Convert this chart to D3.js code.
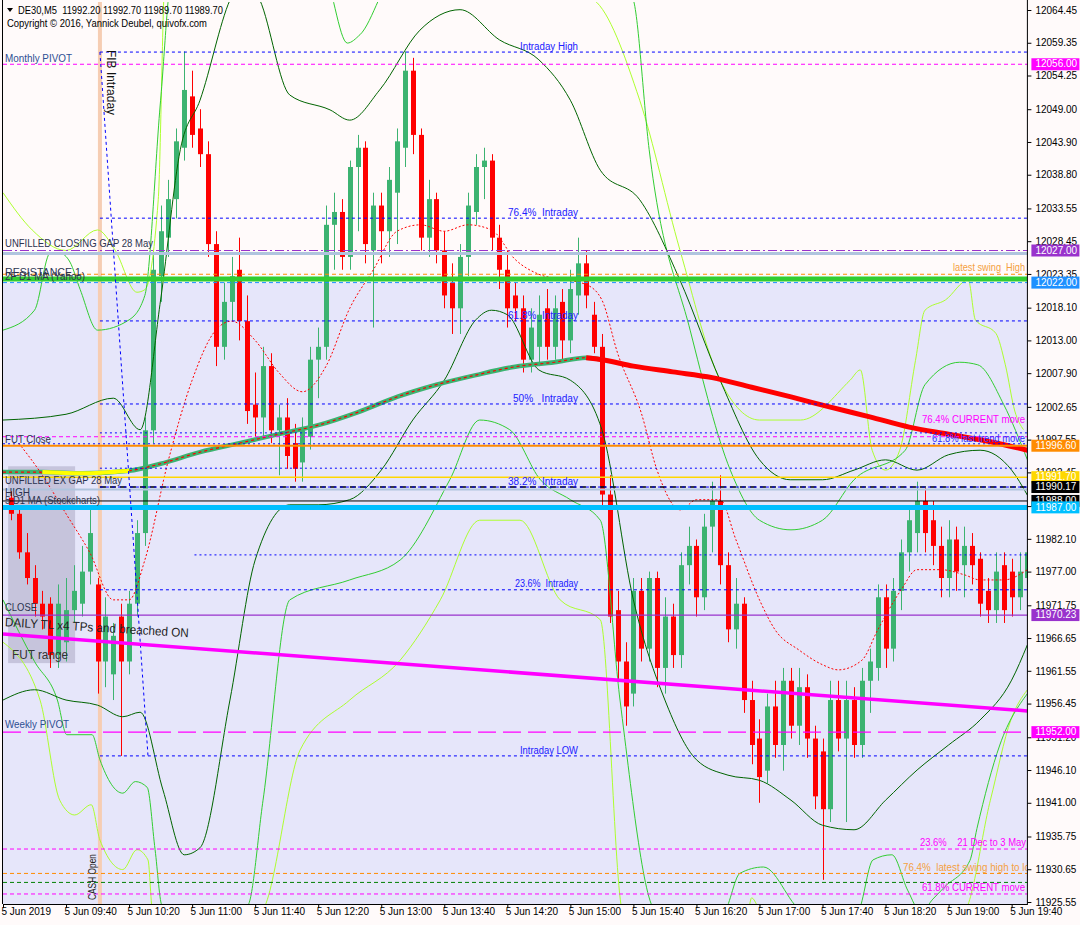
<!DOCTYPE html>
<html><head><meta charset="utf-8">
<script src="https://cdn.jsdelivr.net/npm/d3@7"></script>
<style>
body{margin:0;background:#fffafa;}
text{font-family:"Liberation Sans",Arial,sans-serif;white-space:pre;}
</style>
</head><body>
<svg id="c" width="1080" height="925"></svg>
<script>
// ---------------- DATA ----------------
const xTickBars = [0,8,16,24,32,40,48,56,64,72,80,88,96,104,112,120,128];
const xTickLabels = ["5 Jun 2019","5 Jun 09:40","5 Jun 10:20","5 Jun 11:00","5 Jun 11:40","5 Jun 12:20","5 Jun 13:00","5 Jun 13:40","5 Jun 14:20","5 Jun 15:00","5 Jun 15:40","5 Jun 16:20","5 Jun 17:00","5 Jun 17:40","5 Jun 18:20","5 Jun 19:00","5 Jun 19:40"];
const yTicks = [12064.45,12059.35,12054.25,12049.00,12043.90,12038.80,12033.55,12028.45,12023.35,12018.10,12013.00,12007.90,12002.65,11997.55,11992.45,11987.20,11982.10,11977.00,11971.75,11966.65,11961.55,11956.45,11951.20,11946.10,11941.00,11935.75,11930.65,11925.55];

// candles, bar 1..130 (5-minute bars from 09:00)
const opens = [11988.5,11986,11980,11976,11972,11972,11964,11966,11971,11972,11977,11975,11963,11961,11970,11963,11972,11983,11999,12023,12029,12035,12043,12051,12046,12042,12028,12012,12019,12024,12016,12003,12001,12009,11999,12001,11997,11994,11998,12010,12012,12031,12033,12026,12040,12043,12027,12034,12030,12036,12043,12055,12045,12029,12035,12027,12022,12018,12026,12033,12040,12041,12029,12024,12020,12018,12010,12012,12018,12012,12019,12013,12020,12025,12017,12012,11989,11971,11963,11958,11974,11965,11976,11962,11970,11964,11978,11981,11973,11984,11988,11978,11968,11972,11957,11951,11946,11956,11950,11960,11953,11959,11951,11949,11940,11957,11951,11957,11950,11960,11962,11973,11965,11974,11980,11983,11988,11985,11981,11976,11982,11978,11981,11979,11974,11971,11978,11977,11973,11976];
const highs = [11989.5,11987,11983,11978,11974,11973,11975,11976,11978,11981,11987,11976,11973,11969,11972,11974,11985,12001,12027,12034,12038,12046,12058,12055,12049,12044,12030,12022,12026,12029,12020,12008,12012,12011,12003,12004,12000,12001,12012,12015,12034,12036,12035,12041,12045,12044,12036,12036,12040,12046,12058,12057,12046,12038,12036,12030,12025,12028,12036,12042,12043,12042,12031,12027,12022,12020,12018,12020,12021,12020,12021,12024,12029,12027,12019,12014,11992,11974,11966,11976,11976,11977,11977,11973,11972,11980,11984,11982,11986,11991,11992,11980,11976,11973,11960,11954,11958,11960,11962,11962,11962,11961,11953,11951,11960,11960,11960,11959,11962,11965,11975,11975,11976,11982,11987,11991,11990,11988,11984,11985,11984,11984,11983,11980,11976,11980,11980,11979,11980,11981];
const lows = [11985,11979,11975,11970,11968,11962,11962,11963,11969,11970,11975,11958,11959,11957,11948.3,11961,11970,11981,11997,12019,12026,12032,12041,12043,12040,12026,12009,12010,12016,12013,12000,11998,11998,11997,11992,11993,11991,11991,11996,12004,12010,12024,12024,12024,12030,12025,12015,12025,12026,12028,12040,12042,12027,12026,12025,12018,12014,12014,12023,12031,12035,12027,12021,12015,12016,12008,12008,12009,12010,12010,12010,12011,12017,12018,12011,11987,11969,11960,11953,11956,11963,11963,11959,11958,11962,11962,11975,11970,11971,11980,11975,11966,11965,11955,11947,11941,11944,11948,11946,11951,11950,11948,11940,11929,11938,11949,11938,11948,11948,11955,11960,11962,11963,11971,11977,11980,11980,11978,11973,11973,11974,11973,11975,11970,11969,11969,11969,11970,11971,11975];
const closes = [11986,11980,11976,11972,11970,11964,11972,11971,11974,11977,11983,11963,11970,11967,11963,11972,11983,11999,12024,12030,12035,12044,12052,12045,12042,12028,12012,12019,12023,12016,12002,12001,12009,11999,12001,11995,11993,11999,12010,12012,12031,12033,12026,12040,12043,12028,12034,12030,12038,12044,12055,12045,12029,12035,12027,12020,12018,12026,12034,12040,12041,12029,12024,12018,12018,12010,12015,12017,12012,12018,12013,12021,12025,12020,12012,11989,11970,11963,11956,11974,11965,11976,11962,11970,11964,11978,11981,11973,11984,11988,11978,11968,11972,11957,11950,11945,11956,11950,11960,11953,11959,11951,11942,11940,11957,11951,11957,11950,11960,11963,11973,11965,11974,11980,11985,11988,11983,11981,11976,11982,11977,11981,11978,11972,11971,11977,11971,11973,11977,11980];

// slow moving average [bar, price]
const maSlow = [[0,11992.5],[5,11992.5],[10,11992.3],[16,11992.7],[20,11993.8],[25,11995.6],[30,11997.0],[35,11998.4],[40,11999.8],[45,12001.8],[50,12004.2],[55,12006.1],[60,12007.6],[65,12008.9],[70,12009.6],[74,12010.3],[76,12010.0],[80,12009.0],[85,12008.1],[90,12007.2],[95,12005.7],[100,12004.2],[105,12002.6],[110,12001.1],[115,11999.5],[120,11998.4],[125,11997.3],[130,11995.9]];
// fast moving average (red dotted)
const maFast = [[2,11997],[5,11992],[8,11986],[11,11980],[14,11972.6],[16,11972.6],[18,11978.8],[21,11994.4],[24,12006.8],[27,12014.6],[29,12016],[32,12013],[35,12008],[38,12005],[41,12009],[44,12018],[47,12024],[50,12030],[53,12031],[56,12030],[59,12031],[62,12030.2],[65,12025.6],[68,12023.3],[71,12022.5],[74,12021.7],[76,12019.3],[78,12011],[81,12001.7],[83,11992.8],[86,11986.6],[88,11988.2],[91,11988.2],[93,11982.0],[96,11972.6],[98,11967.9],[101,11964.8],[104,11962.5],[106,11961.7],[109,11963.2],[111,11967.9],[114,11974.2],[116,11977.3],[119,11977.3],[122,11976.5],[124,11975.7],[127,11975.7],[130,11977.3]];

// Bollinger-style envelopes [bar, price]
const dgUpper = [[0,12000.6],[8,12001.5],[14,12004],[17.4,11999.1],[20,12019.3],[22.5,12042.7],[25,12050.4],[28.8,12066],[30.7,12070],[32.6,12066],[36.4,12051.2],[41.5,12048.9],[44,12047.3],[47.8,12052],[52.9,12061.3],[58,12064.5],[63,12059.8],[68,12056.7],[72,12050.4],[75.8,12039.5],[80.8,12034.9],[85.9,12022.4],[91,12006.8],[96,11994.4],[99.9,11991.3],[104,11991.3],[108,11992.8],[112,11994.4],[116,11992.8],[120,11995.2],[124,11995.9],[128,11992.8],[130,11988.9]];
const dgLower = [[0,11957],[4,11958.6],[8,11957],[12,11956.2],[15.2,11954.4],[17.4,11955.1],[20.3,11943],[23,11932.9],[25,11934],[28.8,11957],[32,11978.8],[36.4,11987.4],[40,11987.4],[44,11988.2],[48,11992.8],[52,12000.6],[56,12006.8],[60,12016.2],[62,12017.7],[64,12017],[68,12008.4],[72,12006.8],[76,11999.1],[80,11972.6],[84,11957],[88,11947.7],[92,11945.3],[96,11944.5],[100,11941.4],[104,11937.5],[108,11936.8],[112,11941.4],[116,11946.1],[120,11950],[124,11953.9],[128,11960.1],[130,11965.6]];
const gUpper = [[0,12014.6],[4,12017.7],[6,12026.6],[7.2,12026.6],[8.5,12025.2],[9.8,12020.9],[12,12014.6],[16,12016.2],[18,12020],[20,12050.4],[21.5,12070],[40.6,12070],[43.7,12059.3],[45.3,12060.6],[50,12070],[78,12070],[80,12066],[82,12042.7],[87.2,12014.6],[92.3,11992.8],[96,11985],[100,11983.5],[104,11985],[108,11991.3],[114.5,11995.9],[117,12006.1],[121.4,12009.6],[123.7,12009.2],[127,12003],[130,11994.4]];
const gLower = [[0,11972.6],[4,11963],[6.9,11957],[8.1,11951.6],[11.3,11951.6],[12.3,11947.7],[15.2,11942.5],[16.8,11944.3],[18.3,11943.4],[19.3,11933.7],[20.2,11925],[31,11925],[33,11941.4],[36.4,11972.6],[44,11975.7],[50.4,11978.8],[56.7,11991.3],[60.5,12000.6],[64.3,11999.1],[68.2,11991.3],[72,11988.2],[75.8,11985],[78.3,11957],[83,11924],[91.4,11924],[93.5,11930],[96.5,11931],[101.8,11924],[108.4,11924],[110.4,11932.1],[112.8,11932.9],[114.8,11927.4],[116.5,11924],[118,11926],[119.5,11927.9],[122.7,11932],[123.6,11937],[126.5,11950],[130,11958]];
const ygUpper = [[0,12036],[3.7,12030.2],[8,12027],[12,12030.2],[14.2,12027.1],[17,12020.5],[18,12020.9],[19.7,12034.9],[20.6,12070],[66,12070],[75,12066],[80.8,12050.4],[85.9,12027.1],[91,12006.8],[96,12000.6],[101.2,12000.6],[107.5,12006.8],[108.8,12008.4],[110.3,11995.9],[112,11992.8],[113.8,11995.9],[115.8,12009.9],[117,12017.7],[119.6,12019.3],[122.5,12022.4],[123.4,12016.2],[126,12014.1],[127.2,12009.2],[128.4,12002],[129.5,11999.1]];
const ygLower = [[0,11966],[4.7,11957],[7.2,11941.4],[9.1,11939.1],[11.2,11940.7],[12.3,11935.2],[15.2,11930.6],[17,11933.7],[18.4,11932.1],[19,11924],[32.6,11924],[37.7,11949.2],[44,11957],[50.4,11963.2],[55.5,11972.6],[60.5,11985],[65.6,11985],[70.7,11972.6],[75.8,11969.5],[78.7,11924],[94.5,11924],[95,11926.2],[96.3,11924],[121.8,11924],[125.3,11941.4],[127.9,11953.9],[130,11958.6]];

// fibonacci "Intraday"
const fibHigh = 12057.9, fibLow = 11948.3;
const fibLevels = [0, 0.236, 0.382, 0.5, 0.618, 0.764, 1];
const fibNames = ["Intraday LOW","23.6%  Intraday","38.2%  Intraday","50%   Intraday","61.8%  Intraday","76.4%  Intraday","Intraday High"];
const fibStartBar = 12.3, fibEndBar = 18.4;

// horizontal levels
const levelPrices = [12056.00,12027.00,12026.55,12023.30,12022.55,12022.00,11998.6,11998.0,11996.9,11996.60,11993.1,11991.70,11990.17,11989.80,11988.00,11987.00,11979.6,11970.23,11952.00,11933.8,11930.0,11928.6,11926.8];
const tagPrices = [12056.00,12027.00,12022.00,11996.60,11991.70,11990.17,11988.00,11987.00,11970.23,11952.00];

const trendLine = [[0,11967.3],[130,11955.3]];          // DAILY TL
const futRange = {bar0:0.65, bar1:9.15, top:11993.4, bottom:11962.75};
const lowerZoneTop = 12022.0;
const cashOpenBar = 12.3;

// ---------------- CHART ----------------
const svg = d3.select("#c");
const L=3, R=1027.4, T=2, B=904;
const x = d3.scaleLinear().domain([0,130]).range([L, R]);
const y = d3.scaleLinear().domain([11925.55,12064.45]).range([902,10]);

svg.append("rect").attr("width",1080).attr("height",925).attr("fill","#fffafa");
svg.append("defs").append("clipPath").attr("id","clip").append("rect")
  .attr("x",L).attr("y",T).attr("width",R-L).attr("height",B-T);
const g = svg.append("g").attr("clip-path","url(#clip)");

g.append("rect").attr("x",L).attr("y",y(lowerZoneTop)).attr("width",R-L).attr("height",B-y(lowerZoneTop)).attr("fill","#e6e6fa");
g.append("rect").attr("x",x(futRange.bar0)).attr("y",y(futRange.top))
  .attr("width",x(futRange.bar1)-x(futRange.bar0)).attr("height",y(futRange.bottom)-y(futRange.top))
  .attr("fill","#c6c4dc");
g.append("rect").attr("x",x(cashOpenBar)-2).attr("y",T).attr("width",4).attr("height",B-T).attr("fill","#f6cdb3");

const hl = (p, color, w, dash, b0) => g.append("line")
   .attr("x1", x(b0||0)).attr("x2", R).attr("y1", y(p)).attr("y2", y(p))
   .attr("stroke", color).attr("stroke-width", w).attr("stroke-dasharray", dash||null);

// candles
const bars = d3.range(1,131);
const cg = g.append("g");
bars.forEach((b,i)=>{
  const o=opens[i], c=closes[i], h=highs[i], l=lows[i];
  const col = c>=o ? "#3cb371" : "#ff0000";
  const cx = Math.round(x(b))+0.5;
  cg.append("line").attr("x1",cx).attr("x2",cx).attr("y1",y(h)).attr("y2",y(l)).attr("stroke",col).attr("stroke-width",1);
  const top = y(Math.max(o,c)), bot = y(Math.min(o,c));
  cg.append("rect").attr("x",cx-2.5).attr("y",top).attr("width",5).attr("height",Math.max(1,bot-top)).attr("fill",col);
});

// envelopes
const line = d3.line().x(d=>x(d[0])).y(d=>y(d[1])).curve(d3.curveMonotoneX);
const band = (data,color)=> g.append("path").attr("d",line(data)).attr("fill","none").attr("stroke",color).attr("stroke-width",1);
band(ygUpper,"#adff2f"); band(ygLower,"#adff2f");
band(gUpper,"#32cd32"); band(gLower,"#32cd32");
band(dgUpper,"#006400"); band(dgLower,"#006400");

// moving averages
const maRise = maSlow.filter(d=>d[0]<=76), maFall = maSlow.filter(d=>d[0]>=74);
g.append("path").attr("d",line(maRise)).attr("fill","none").attr("stroke","#3cb371").attr("stroke-width",4.5);
g.append("path").attr("d",line(maRise)).attr("fill","none").attr("stroke","#ff0000").attr("stroke-width",1.2).attr("stroke-dasharray","3,3");
g.append("path").attr("d",line(maSlow.filter(d=>d[0]>=5&&d[0]<=16))).attr("fill","none").attr("stroke","#ffff00").attr("stroke-width",4);
g.append("path").attr("d",line(maFall)).attr("fill","none").attr("stroke","#ff0000").attr("stroke-width",5);
g.append("path").attr("d",line(maFast)).attr("fill","none").attr("stroke","#ff0000").attr("stroke-width",1).attr("stroke-dasharray","2,2");

// level lines
const lv = levelPrices;
hl(lv[0],"#ff00ff",1,"4,3");
hl(lv[1],"#9932cc",1.2,"9,3,2,3");
hl(lv[2],"#b0c4de",3);
hl(lv[3],"#ff8c00",1,"4,3");
hl(lv[4],"#32cd32",5);
hl(lv[5],"#1e90ff",1,"4,3");
hl(lv[6],"#0000ff",1,"2,3",12.3);
hl(lv[7],"#ff00ff",1,"4,3");
hl(lv[8],"#0000ff",1,"2,3");
hl(lv[9],"#ff8c00",2);
hl(lv[10],"#0000ff",1,"2,3",12.3);
hl(lv[11],"#ffd700",1.5);
hl(lv[12],"#000000",1.5,"6,4",12.3);
hl(lv[13],"#b0c4de",2);
hl(lv[14],"#000000",1);
hl(lv[15],"#00bfff",5);
hl(lv[16],"#0000ff",1,"2,3",24.3);
hl(lv[17],"#9932cc",1.2);
hl(lv[18],"#ff00ff",1.2,"18,7");
hl(lv[19],"#ff00ff",1,"4,3");
hl(lv[20],"#ff8c00",1,"4,3");
hl(lv[21],"#008000",1,"4,3");
hl(lv[22],"#ff00ff",1,"4,3");
fibLevels.forEach(f=> hl(fibLow+(fibHigh-fibLow)*f,"#0000ff",1,"3,3",fibStartBar));
g.append("line").attr("x1",x(fibStartBar)).attr("y1",y(fibHigh)).attr("x2",x(fibEndBar)).attr("y2",y(fibLow))
  .attr("stroke","#0000ff").attr("stroke-width",1).attr("stroke-dasharray","3,3");
g.append("line").attr("x1",x(trendLine[0][0])).attr("y1",y(trendLine[0][1])).attr("x2",x(trendLine[1][0])).attr("y2",y(trendLine[1][1]))
  .attr("stroke","#ff00ff").attr("stroke-width",3.5);

// ---- texts
const tg = g.append("g");
const txt = (s,xx,yy,col,size,anchor,len)=> {
  const t = tg.append("text").attr("x",xx).attr("y",yy).attr("fill",col)
   .attr("font-size",size||10.5).attr("text-anchor",anchor||"start").attr("dominant-baseline","middle").text(s);
  if(len) t.attr("textLength",len).attr("lengthAdjust","spacingAndGlyphs");
  return t;
};
const dark="#2c3350", pv="#2e4f93", fibc="#2020ff";
txt("Monthly PIVOT",5,59,pv,10.5,"start",67);
txt("UNFILLED CLOSING GAP 28 May",5,244,dark,10.5,"start",148);
txt("RESISTANCE 1",5,273,dark,10.5,"start",76);
txt("2F D1 MA (Yahoo)",5,277,dark,10.5,"start",80);
txt("FUT Close",5,440,dark,10.5,"start",46);
txt("UNFILLED EX GAP 28 May",5,481,dark,10.5,"start",117);
txt("HIGH",5,493,dark,10.5,"start",25);
txt("5 D1 MA (Stockcharts)",5,501,dark,10.5,"start",95);
txt("CLOSE",5,608,dark,10.5,"start",32);
txt("Weekly PIVOT",5,725,pv,10.5,"start",64);
txt("FUT range",12,656,"#333",12.5,"start",56);
tg.append("text").attr("x",5).attr("y",623).attr("fill","#222").attr("font-size",12.5)
  .attr("dominant-baseline","middle").attr("transform","rotate(3.4,5,623)")
  .attr("textLength",184).attr("lengthAdjust","spacingAndGlyphs").text("DAILY TL x4 TPs and breached ON");
const fibLens = [58,63,70,65,70,70,58];
fibLevels.forEach((f,i)=> txt(fibNames[i],578,y(fibLow+(fibHigh-fibLow)*f)-5,fibc,10,"end",fibLens[i]));
txt("latest swing  High",1025,268,"#f4a040",10.5,"end",72);
txt("76.4% CURRENT move",1025,420,"#ff00ff",10.5,"end",103);
txt("61.8% last trend move",1025,439,"#3030ff",10.5,"end",93);
txt("23.6%    21 Dec to 3 May",1026,843,"#ff00ff",10.5,"end",106);
txt("76.4%  latest swing high to low",903,868,"#f4a040",10.5,"start",134);
txt("61.8% CURRENT move",1025,888,"#ff00ff",10.5,"end",103);
tg.append("text").attr("transform","translate(93,900) rotate(-90)").attr("fill","#222").attr("font-size",10.5)
  .attr("dominant-baseline","middle").attr("textLength",46).attr("lengthAdjust","spacingAndGlyphs").text("CASH Open");
tg.append("text").attr("transform","translate(110,50) rotate(90)").attr("fill","#111").attr("font-size",12)
  .attr("dominant-baseline","middle").attr("textLength",65).attr("lengthAdjust","spacingAndGlyphs").text("FIB Intraday");

// header
svg.append("path").attr("d","M7,8 L13,8 L10,12 Z").attr("fill","#000");
svg.append("text").attr("x",18).attr("y",11).attr("font-size",10.5).attr("dominant-baseline","middle")
  .attr("textLength",205).attr("lengthAdjust","spacingAndGlyphs").text("DE30,M5  11992.20 11992.70 11989.70 11989.70");
svg.append("text").attr("x",7).attr("y",24).attr("font-size",10.5).attr("dominant-baseline","middle")
  .attr("textLength",200).attr("lengthAdjust","spacingAndGlyphs").text("Copyright © 2016, Yannick Deubel, quivofx.com");

// frame
svg.append("line").attr("x1",L-0.5).attr("x2",L-0.5).attr("y1",0).attr("y2",B).attr("stroke","#000");
svg.append("line").attr("x1",R).attr("x2",R).attr("y1",0).attr("y2",B).attr("stroke","#000");

// axes
const xa = svg.append("g").attr("transform",`translate(0,${B})`)
  .call(d3.axisBottom(x).tickValues(xTickBars).tickFormat((d,i)=>xTickLabels[i]).tickSize(4).tickSizeOuter(0));
xa.select(".domain").attr("stroke","#000");
xa.selectAll("text").attr("text-anchor","start").attr("dx","-2").attr("dy","0.35em").attr("font-size",10).attr("font-family","Liberation Sans, Arial");
const ya = svg.append("g").attr("transform",`translate(${R},0)`)
  .call(d3.axisRight(y).tickValues(yTicks).tickFormat(d3.format(".2f")).tickSize(4).tickSizeOuter(0));
ya.select(".domain").remove();
ya.selectAll("text").attr("font-size",10).attr("font-family","Liberation Sans, Arial").attr("x",8);

// price tags
const tagColors = ["#ff00ff","#9932cc","#1e90ff","#ff8c00","#ffd700","#000000","#000000","#00bfff","#9932cc","#ff00ff"];
tagPrices.forEach((p,i)=>{
  const yy = y(p);
  svg.append("rect").attr("x",R+4).attr("y",yy-6).attr("width",48).attr("height",12).attr("fill",tagColors[i]);
  svg.append("text").attr("x",R+8).attr("y",yy+0.5).attr("fill","#fff").attr("font-size",10)
    .attr("dominant-baseline","middle").text(d3.format(".2f")(p));
});
</script>
</body></html>
